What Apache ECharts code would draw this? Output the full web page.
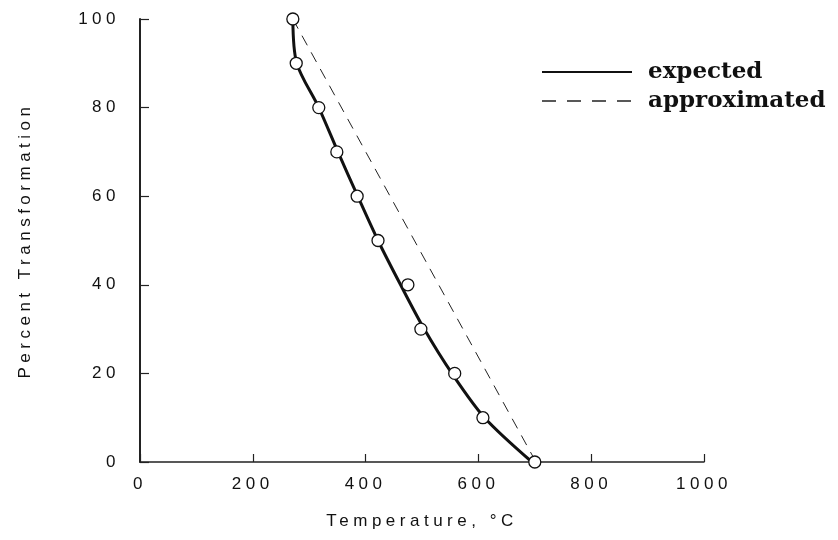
<!DOCTYPE html>
<html><head><meta charset="utf-8">
<script src="https://cdn.jsdelivr.net/npm/echarts@6/dist/echarts.min.js"></script>
<style>html,body{margin:0;padding:0;background:#fff}#c{width:838px;height:540px}</style>
</head><body><div id="c"></div>
<script>
// Tick values
const xTicks = [0, 200, 400, 600, 800, 1000];
const yTicks = [0, 20, 40, 60, 80, 100];
// Measured points (open circles)
const measuredT   = [271, 277, 317, 349, 385, 422, 475, 498, 558, 608, 700];
const measuredPct = [100, 90, 80, 70, 60, 50, 40, 30, 20, 10, 0];
// Expected curve (solid)
const expectedT   = [271, 278, 317, 351, 386, 422, 462, 504, 553, 611, 695];
const expectedPct = [100, 90, 80, 70, 60, 50, 40, 30, 20, 10, 0];
// Approximated line (dashed)
const approxT   = [271, 702];
const approxPct = [100, 0];

// Wide letter spacing for the sans-serif axis text only (as in the original typesetting)
(function () {
  const P = CanvasRenderingContext2D.prototype;
  const orig = P.fillText;
  P.fillText = function () {
    if (!('letterSpacing' in this)) return orig.apply(this, arguments);
    const wide = this.font && this.font.indexOf('Liberation Sans') >= 0;
    this.letterSpacing = wide ? '4.5px' : '0px';
    const r = orig.apply(this, arguments);
    this.letterSpacing = '0px';
    return r;
  };
})();

const zip = (a, b) => a.map((v, i) => [v, b[i]]);
const SANS = 'Liberation Sans';

const chart = echarts.init(document.getElementById('c'), null, {renderer: 'canvas'});
chart.setOption({
  animation: false,
  backgroundColor: '#fff',
  grid: {left: 140, right: 134, top: 19, bottom: 78, outerBoundsMode: 'none'},
  legend: {
    data: [
      {name: 'expected', lineStyle: {width: 2, color: '#111', type: 'solid'}},
      {name: 'approximated', lineStyle: {width: 1.3, color: '#222', type: [14, 11]}}
    ],
    orient: 'vertical',
    left: 536, top: 55,
    itemWidth: 90, itemHeight: 14, itemGap: 5,
    itemStyle: {opacity: 0},
    textStyle: {fontFamily: 'DejaVu Serif', fontWeight: 'bold', fontSize: 23, color: '#111',
                lineHeight: 24, padding: [0, 0, 0, 11]},
    inactiveColor: '#111'
  },
  xAxis: {
    type: 'value', min: xTicks[0], max: xTicks[xTicks.length - 1], interval: 200,
    name: 'Temperature, °C', nameLocation: 'middle', nameGap: 51,
    nameTextStyle: {fontFamily: SANS, fontSize: 17, color: '#111'},
    axisLine: {lineStyle: {color: '#222', width: 1.5}},
    axisTick: {inside: true, length: 8, lineStyle: {color: '#222', width: 1.2}},
    axisLabel: {margin: 14, fontFamily: SANS, fontSize: 17, color: '#111',
                formatter: v => String(v)},
    splitLine: {show: false}
  },
  yAxis: {
    type: 'value', min: yTicks[0], max: yTicks[yTicks.length - 1], interval: 20,
    name: 'Percent Transformation', nameLocation: 'middle', nameGap: 106, nameRotate: 90,
    nameTextStyle: {fontFamily: SANS, fontSize: 17, color: '#111'},
    axisLine: {lineStyle: {color: '#222', width: 2}},
    axisTick: {inside: true, length: 9, lineStyle: {color: '#222', width: 1.2}},
    axisLabel: {margin: 20, fontFamily: SANS, fontSize: 17, color: '#111',
                formatter: v => String(v)},
    splitLine: {show: false}
  },
  series: [
    {
      name: 'approximated', type: 'line', data: zip(approxT, approxPct),
      symbol: 'none', z: 2,
      lineStyle: {color: '#222', width: 1, type: [11, 8]},
      itemStyle: {color: '#222'}
    },
    {
      name: 'expected', type: 'line', data: zip(expectedT, expectedPct),
      symbol: 'none', smooth: 0.3, z: 3,
      lineStyle: {color: '#111', width: 3},
      itemStyle: {color: '#111'}
    },
    {
      name: 'measured', type: 'scatter', data: zip(measuredT, measuredPct),
      symbol: 'circle', symbolSize: 12, z: 4,
      itemStyle: {color: '#ffffff', borderColor: '#111', borderWidth: 1.3, opacity: 1}
    }
  ]
});
</script>
</body></html>
